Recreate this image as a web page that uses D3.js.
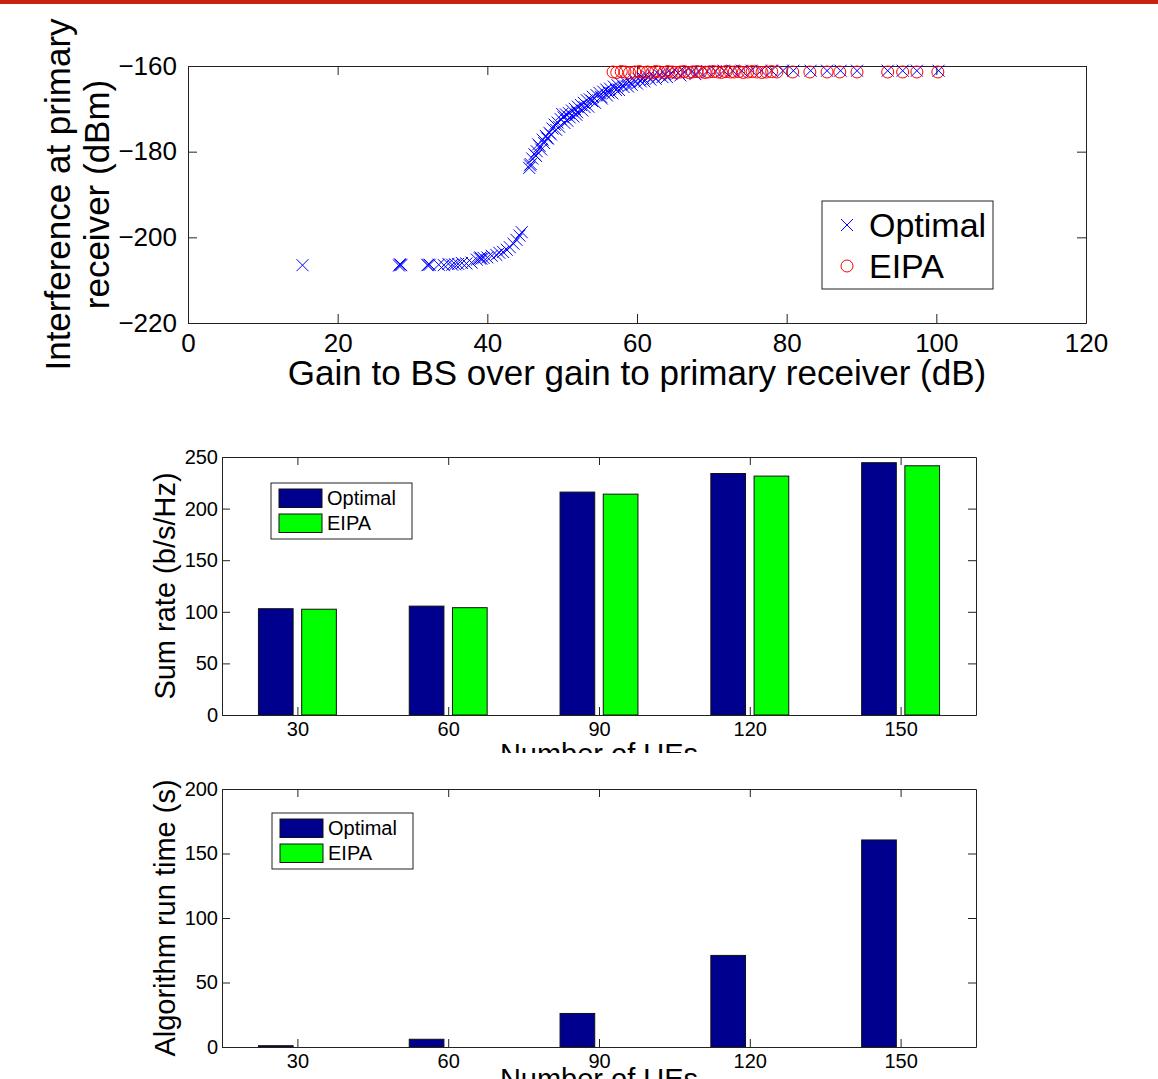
<!DOCTYPE html>
<html>
<head>
<meta charset="utf-8">
<script src="https://cdn.jsdelivr.net/npm/d3@7"></script>
<style>
  body { margin: 0; background: #fff; }
  svg { display: block; font-family: "Liberation Sans", Arial, Helvetica, sans-serif; }
</style>
</head>
<body>
<svg id="chart" width="1158" height="1079"></svg>
<script>
// --- top panel: interference vs gain ratio ---
const optimalGain = [
  15.3, 28.2, 28.4, 28.5, 32.0, 32.3, 33.5, 34.2, 34.8, 35.3, 35.7, 36.1, 36.6, 37.2, 37.9,
  38.6, 39.0, 39.2, 39.5, 40.0, 40.6, 41.2, 41.6, 42.1, 42.6, 43.0, 43.5, 43.9, 44.3, 44.6,
  45.6, 45.8, 46.0, 46.3, 46.6, 47.0, 47.4, 47.8, 48.3, 48.7, 49.0, 49.4, 49.8, 50.2, 50.5,
  50.9, 51.3, 51.7, 52.1, 52.5, 52.9, 53.3, 53.7, 54.1, 54.6, 55.0, 55.5, 55.9, 56.4, 56.9,
  57.4, 57.9, 58.5, 59.0, 59.6, 60.2, 60.8, 61.5, 62.2, 63.0, 63.8, 64.6, 65.5, 66.4, 67.3,
  68.3, 69.4, 70.5, 71.6, 72.8, 74.0, 75.3, 76.6, 78.0, 79.5, 80.9, 83.2, 85.4, 87.2, 89.4,
  93.5, 95.5, 97.4, 100.3,
  50.0, 51.0, 52.0, 53.0, 54.0, 55.2, 56.2, 57.2, 58.2, 59.3, 60.5, 61.8, 63.4, 46.8, 48.0,
  46.5, 47.2, 47.6, 48.1, 48.5, 49.2, 49.6, 50.3, 50.7, 51.5, 51.9, 52.7, 53.5, 54.4, 55.3,
  56.0, 56.7, 57.6, 58.8, 60.0, 61.0, 62.5, 64.0, 65.8, 67.8, 45.7, 39.1, 28.3, 32.1
];
const optimalInterf = [
  -206.5, -206.6, -206.4, -206.5, -206.5, -206.4, -206.4, -206.5, -206.2, -206.4, -206.3, -206.2, -206.0, -206.1, -205.9,
  -205.2, -204.9, -205.0, -204.8, -204.7, -204.3, -204.1, -203.6, -203.4, -202.9, -202.3, -201.5, -200.6, -199.6, -198.8,
  -183.8, -182.9, -181.6, -180.6, -179.9, -178.7, -177.2, -176.3, -175.6, -174.6, -173.7, -173.2, -172.4, -172.0, -171.3,
  -171.0, -170.4, -170.0, -169.5, -169.1, -168.6, -168.0, -167.8, -167.2, -166.8, -166.3, -166.0, -165.5, -165.3, -164.8,
  -164.5, -164.2, -163.8, -163.6, -163.2, -163.0, -162.8, -162.5, -162.3, -162.1, -161.9, -161.8, -161.6, -161.5, -161.4,
  -161.3, -161.2, -161.2, -161.1, -161.1, -161.1, -161.1, -161.1, -161.1, -161.1, -161.1, -161.1, -161.1, -161.1, -161.1,
  -161.1, -161.1, -161.1, -161.1,
  -171.2, -172.0, -170.8, -169.6, -168.2, -167.2, -166.2, -165.6, -164.9, -164.4, -163.6, -163.2, -162.6, -178.3, -176.9,
  -181.0, -179.5, -178.0, -176.9, -176.0, -174.9, -174.2, -173.3, -172.8, -171.8, -171.4, -170.4, -169.5, -168.6, -167.6,
  -166.9, -166.4, -165.6, -164.8, -164.1, -163.6, -163.0, -162.6, -162.2, -161.9, -183.2, -204.7, -206.3, -206.4
];
const eipaGain = [
  56.8, 57.3, 57.9, 58.4, 59.0, 59.7, 60.3, 60.8, 61.4, 62.0, 62.5, 63.0, 63.6, 64.1, 64.7, 65.2,
  65.8, 66.3, 66.9, 67.4, 68.0, 68.5, 69.1, 69.6, 70.2, 70.8, 71.3, 71.9, 72.5, 73.0, 73.6, 74.2,
  74.8, 75.4, 76.0, 76.7, 77.3, 78.0, 78.7, 80.8, 83.1, 85.4, 87.1, 89.4, 93.5, 95.5, 97.4, 100.2
];
const eipaInterf = [
  -161.4, -161.5, -161.3, -161.4, -161.6, -161.4, -161.3, -161.5, -161.4, -161.6, -161.3, -161.4, -161.5, -161.3, -161.4, -161.5,
  -161.4, -161.3, -161.5, -161.4, -161.3, -161.4, -161.5, -161.4, -161.3, -161.4, -161.5, -161.3, -161.4, -161.4, -161.3, -161.5,
  -161.4, -161.3, -161.4, -161.5, -161.4, -161.3, -161.4, -161.4, -161.4, -161.4, -161.4, -161.4, -161.4, -161.4, -161.4, -161.4
];
const gainTicks = [0, 20, 40, 60, 80, 100, 120];
const interfTicks = [-220, -200, -180, -160];

// --- bar panels ---
const ueCounts = [30, 60, 90, 120, 150];
const rateOptimal = [103, 105.5, 216, 234, 244.5];
const rateEipa = [102.5, 104, 214, 231.5, 241.5];
const rateTicks = [0, 50, 100, 150, 200, 250];
const timeOptimal = [1, 6, 26, 71, 160.5];
const timeEipa = [0, 0, 0, 0, 0];
const timeTicks = [0, 50, 100, 150, 200];
const seriesNames = ["Optimal", "EIPA"];

const svg = d3.select("#chart");
const AXIS = "#222";
const minusFmt = d => (d < 0 ? "\u2212" + Math.abs(d) : String(d));

svg.append("rect").attr("x", 0).attr("y", 0).attr("width", 1158).attr("height", 4).attr("fill", "#c8230c");

// box-style axes with inward ticks on all four sides
function drawFrame(x, y, xt, yt, o) {
  const [xa, xb] = x.range();
  const [yb, ya] = y.range();
  const g = svg.append("g");
  g.append("rect").attr("x", xa).attr("y", ya).attr("width", xb - xa).attr("height", yb - ya).attr("fill", "#fff");
  const axes = [
    g.append("g").attr("transform", `translate(0,${yb})`)
      .call(d3.axisBottom(x).tickValues(xt).tickSize(-o.tick).tickSizeOuter(0).tickPadding(o.padX).tickFormat(o.fmt || String)),
    g.append("g").attr("transform", `translate(0,${ya})`)
      .call(d3.axisTop(x).tickValues(xt).tickSize(-o.tick).tickSizeOuter(0).tickFormat("")),
    g.append("g").attr("transform", `translate(${xa},0)`)
      .call(d3.axisLeft(y).tickValues(yt).tickSize(-o.tick).tickSizeOuter(0).tickPadding(o.padY).tickFormat(o.fmt || String)),
    g.append("g").attr("transform", `translate(${xb},0)`)
      .call(d3.axisRight(y).tickValues(yt).tickSize(-o.tick).tickSizeOuter(0).tickFormat(""))
  ];
  axes.forEach(a => {
    a.attr("font-family", null).attr("font-size", o.fs);
    a.selectAll("path.domain, line").attr("stroke", AXIS);
    a.selectAll("text").attr("fill", "#000");
  });
  return g;
}

// ===== top panel =====
const xTop = d3.scaleLinear().domain([0, 120]).range([188, 1086]);
const yTop = d3.scaleLinear().domain([-220, -160]).range([323, 66]);
const topG = drawFrame(xTop, yTop, gainTicks, interfTicks, { tick: 9, padX: 11, padY: 11, fs: 26, fmt: minusFmt });

const xMark = "M-6,-6L6,6M-6,6L6,-6";
topG.append("g").selectAll("path").data(optimalGain).join("path")
  .attr("transform", (d, i) => `translate(${xTop(d)},${yTop(optimalInterf[i])})`)
  .attr("d", xMark).attr("fill", "none").attr("stroke", "#0000ff").attr("stroke-width", 1);
topG.append("g").selectAll("circle").data(eipaGain).join("circle")
  .attr("cx", d => xTop(d)).attr("cy", (d, i) => yTop(eipaInterf[i])).attr("r", 6)
  .attr("fill", "none").attr("stroke", "#ff0000").attr("stroke-width", 1);

// legend
const lgTop = topG.append("g");
lgTop.append("rect").attr("x", 822).attr("y", 201).attr("width", 171).attr("height", 88)
  .attr("fill", "#fff").attr("stroke", AXIS);
lgTop.append("path").attr("transform", "translate(847,225)").attr("d", xMark)
  .attr("stroke", "#0000ff").attr("fill", "none");
lgTop.append("circle").attr("cx", 847).attr("cy", 266).attr("r", 6).attr("fill", "none").attr("stroke", "#ff0000");
lgTop.selectAll("text").data(seriesNames).join("text")
  .attr("x", 869).attr("y", (d, i) => (i === 0 ? 237 : 278)).attr("font-size", 34).text(d => d);

topG.append("text").attr("x", 637).attr("y", 385).attr("text-anchor", "middle").attr("font-size", 35)
  .text("Gain to BS over gain to primary receiver (dB)");
topG.append("text").attr("transform", "translate(70,194.5) rotate(-90)").attr("text-anchor", "middle")
  .attr("font-size", 35).text("Interference at primary");
topG.append("text").attr("transform", "translate(109,194.5) rotate(-90)").attr("text-anchor", "middle")
  .attr("font-size", 35).text("receiver (dBm)");

// ===== bar panels =====
const BAR_W = 6.9, BAR_OFF = 4.3;
const COLORS = ["#00008f", "#00ff00"];

function barPanel(top, bottom, yMax, ticks, series, ylabel, legendBox, xlabelBase, clipY) {
  const x = d3.scaleLinear().domain([15, 165]).range([222, 976]);
  const y = d3.scaleLinear().domain([0, yMax]).range([bottom, top]);
  const g = drawFrame(x, y, ueCounts, ticks, { tick: 8, padX: 7, padY: 4, fs: 20 });
  const wPx = x(BAR_W) - x(0);
  series.forEach((vals, s) => {
    const off = s === 0 ? -BAR_OFF : BAR_OFF;
    g.append("g").selectAll("rect").data(vals).join("rect")
      .filter(d => d > 0)
      .attr("x", (d, i) => x(ueCounts[i] + off) - wPx / 2)
      .attr("y", d => y(d))
      .attr("width", wPx)
      .attr("height", d => y(0) - y(d))
      .attr("fill", COLORS[s]).attr("stroke", "#111").attr("stroke-width", 1);
  });
  // redraw bottom axis line over bars
  g.append("line").attr("x1", 222).attr("x2", 976).attr("y1", bottom + 0.5).attr("y2", bottom + 0.5).attr("stroke", AXIS);

  const [lx, ly] = legendBox;
  const lg = g.append("g");
  lg.append("rect").attr("x", lx).attr("y", ly).attr("width", 141).attr("height", 56)
    .attr("fill", "#fff").attr("stroke", AXIS);
  seriesNames.forEach((name, s) => {
    lg.append("rect").attr("x", lx + 8).attr("y", ly + 6 + s * 25).attr("width", 43).attr("height", 18.5)
      .attr("fill", COLORS[s]).attr("stroke", "#111");
    lg.append("text").attr("x", lx + 56).attr("y", ly + 22 + s * 25).attr("font-size", 20).text(name);
  });

  g.append("text").attr("transform", `translate(175,${(top + bottom) / 2}) rotate(-90)`)
    .attr("text-anchor", "middle").attr("font-size", 29).text(ylabel);

  const clipId = "clip" + Math.round(top);
  svg.append("clipPath").attr("id", clipId).append("rect")
    .attr("x", 0).attr("y", 0).attr("width", 1158).attr("height", clipY);
  g.append("text").attr("x", 599).attr("y", xlabelBase).attr("text-anchor", "middle")
    .attr("font-size", 29).attr("clip-path", `url(#${clipId})`).text("Number of UEs");
}

barPanel(457, 715, 250, rateTicks, [rateOptimal, rateEipa], "Sum rate (b/s/Hz)", [271, 483], 764, 753);
barPanel(789, 1047, 200, timeTicks, [timeOptimal, timeEipa], "Algorithm run time (s)", [272, 813], 1089, 1079);
</script>
</body>
</html>
